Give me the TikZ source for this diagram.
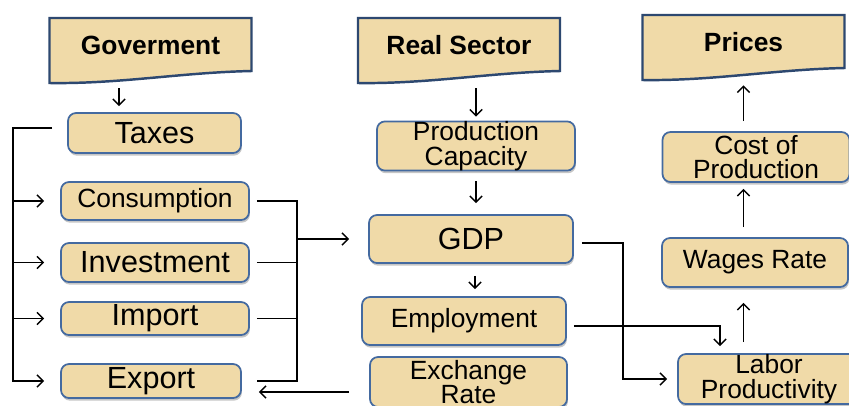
\documentclass[tikz,border=0pt]{standalone}
\usepackage{fontspec}
\setmainfont{Liberation Sans}
\usetikzlibrary{arrows.meta,shadows}

\definecolor{boxFill}{RGB}{240,218,168}
\definecolor{boxLine}{RGB}{68,106,160}
\definecolor{bannerLine}{RGB}{45,72,112}

\newcommand{\smallfont}{\fontsize{15}{14}\selectfont}
\newcommand{\bigfont}{\fontsize{17.4}{17}\selectfont}

% banner with a wavy bottom: x, y, name, text
\newcommand{\banner}[4]{%
  \filldraw[bannerbox] (#1-2.02,#2+0.54) -- (#1+2.02,#2+0.54) -- (#1+2.02,#2-0.52)
    .. controls (#1+0.6,#2-0.55) and (#1-0.6,#2-0.78) .. (#1-2.02,#2-0.76) -- cycle;
  \node[bannertext] (#3) at (#1,#2) {#4};}

\tikzset{
  box/.style={draw=boxLine, fill=boxFill, line width=1pt, rounded corners=0.16cm,
    drop shadow={shadow xshift=0.5pt, shadow yshift=-1.5pt, opacity=.45},
    align=center, inner sep=0pt, font=\smallfont},
  bigbox/.style={box, font=\bigfont},
  bannerbox/.style={draw=bannerLine, fill=boxFill, line width=1.4pt},
  bannertext/.style={minimum width=4.04cm, minimum height=1.08cm, inner sep=0pt,
    font=\fontsize{15}{15}\selectfont\bfseries},
  wire/.style={line width=0.8pt},
  arr/.style={wire, -{Straight Barb[length=3.5pt,width=7pt]}}
}

\begin{document}
\begin{tikzpicture}
  \clip (0,0) rectangle (16.98,-8.10);
  % Banners
  \banner{3.01}{-0.90}{gov}{Goverment}
  \banner{9.18}{-0.90}{real}{Real Sector}
  \banner{14.87}{-0.84}{prices}{Prices}
  % Left column
  \node[bigbox, minimum width=3.46cm, minimum height=0.80cm] (taxes) at (3.09,-2.66) {Taxes};
  \node[box, minimum width=3.76cm, minimum height=0.76cm] (cons) at (3.10,-4.02) {Consumption};
  \node[bigbox, minimum width=3.76cm, minimum height=0.78cm] (inv) at (3.10,-5.25) {Investment};
  \node[bigbox, minimum width=3.76cm, minimum height=0.66cm] (imp) at (3.10,-6.37) {Import};
  \node[bigbox, minimum width=3.60cm, minimum height=0.68cm] (exp) at (3.02,-7.62) {Export};
  % Middle column
  \node[box, minimum width=3.96cm, minimum height=0.96cm] (prodcap) at (9.52,-2.92) {Production\\Capacity};
  \node[bigbox, minimum width=4.08cm, minimum height=0.96cm] (gdp) at (9.42,-4.78) {GDP};
  \node[box, minimum width=4.08cm, minimum height=0.96cm] (emp) at (9.28,-6.42) {Employment};
  \node[box, minimum width=3.94cm, minimum height=1.00cm] (exch) at (9.37,-7.64) {Exchange\\Rate};
  % Right column
  \node[box, minimum width=3.74cm, minimum height=1.00cm] (cost) at (15.12,-3.14) {Cost of\\Production};
  \node[box, minimum width=3.72cm, minimum height=0.98cm] (wages) at (15.10,-5.25) {Wages Rate};
  \node[box, minimum width=3.64cm, minimum height=1.00cm] (lab) at (15.38,-7.58) {Labor\\Productivity};
  % Bus lines
  \coordinate (lbus) at (0.26,0);
  \coordinate (rbus) at (5.94,0);
  \coordinate (gbus) at (12.46,0);
  % Vertical arrows
  \draw[arr, shorten <=0.32cm, shorten >=0.12cm] ([xshift=-0.63cm]gov.south) -- ([xshift=-0.63cm]gov.south |- taxes.north);
  \draw[arr, shorten <=0.32cm, shorten >=0.08cm] (real.south -| prodcap.north) -- (prodcap.north);
  \draw[arr, shorten <=0.2cm, shorten >=0.22cm] (prodcap.south) -- (prodcap.south |- gdp.north);
  \draw[arr, shorten <=0.24cm, shorten >=0.14cm] ([xshift=0.08cm]gdp.south) -- ([xshift=0.08cm]gdp.south |- emp.north);
  \draw[arr, shorten <=0.2cm, shorten >=0.32cm] (cost.north -| prices.south) -- (prices.south);
  \draw[arr, shorten <=0.2cm, shorten >=0.12cm] (wages.north -| prices.south) -- (cost.south -| prices.south);
  \draw[arr, shorten <=0.22cm, shorten >=0.3cm] (lab.north -| prices.south) -- (wages.south -| prices.south);
  % Government spending
  \draw[arr, shorten <=0.3cm, shorten >=0.32cm] ([yshift=0.1cm]taxes.west) -| (lbus |- exp.west) -- (exp.west);
  \foreach \b in {cons,inv,imp}
    \draw[arr, shorten >=0.32cm] (lbus |- \b.west) -- (\b.west);
  % Into GDP
  \draw[wire, shorten <=0.14cm, shorten >=0.3cm] (cons.east) -| (rbus |- exp.east) -- (exp.east);
  \foreach \b in {inv,imp}
    \draw[wire, shorten <=0.14cm] (\b.east) -- (rbus |- \b.east);
  \draw[arr, shorten >=0.38cm] (rbus |- gdp.west) -- (gdp.west);
  % Other links
  \draw[arr, shorten <=0.4cm, shorten >=0.34cm] ([yshift=-0.2cm]exch.west) -- ([yshift=-0.2cm]exch.west -| exp.east);
  \draw[arr, shorten <=0.16cm, shorten >=0.2cm] ([yshift=-0.08cm]gdp.east) -| (gbus |- lab.west) -- (lab.west);
  \draw[arr, shorten <=0.14cm, shorten >=0.14cm] ([yshift=-0.1cm]emp.east) -| ([xshift=-0.98cm]lab.north);
\end{tikzpicture}
\end{document}
